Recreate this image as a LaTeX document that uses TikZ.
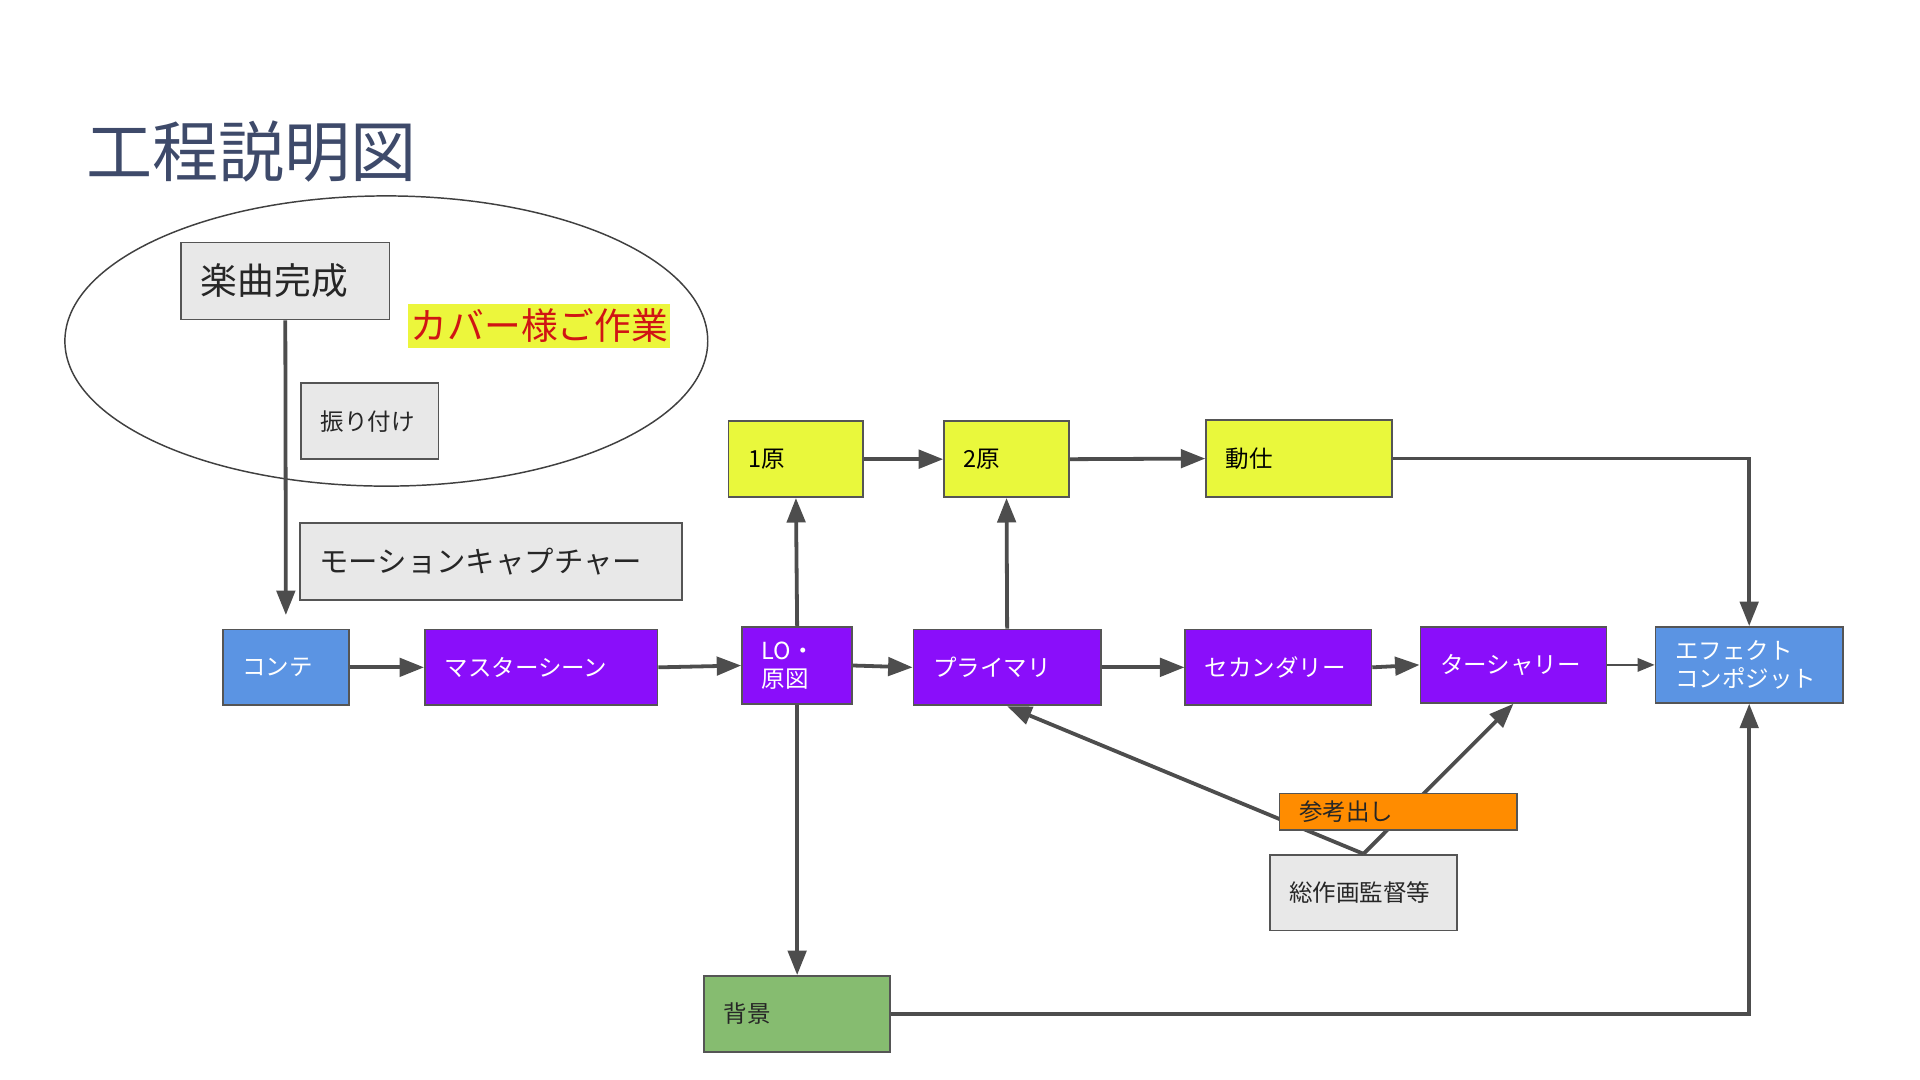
\documentclass[tikz,border=0pt]{standalone}
\usepackage{fontspec}
\setmainfont{Noto Sans CJK JP}
\usetikzlibrary{arrows.meta}
\definecolor{cpurple}{RGB}{138,14,250}
\definecolor{cblue}{RGB}{91,148,227}
\definecolor{cyellow}{RGB}{233,248,60}
\definecolor{cgray}{RGB}{232,232,232}
\definecolor{corange}{RGB}{255,140,0}
\definecolor{cgreen}{RGB}{134,188,112}
\definecolor{cline}{RGB}{77,77,77}
\definecolor{cborder}{RGB}{85,85,85}
\definecolor{ctitle}{RGB}{62,74,106}
\definecolor{cred}{RGB}{208,20,20}
\definecolor{chl}{RGB}{236,246,60}
\newcommand{\flowbox}[7]{%
  \pgfmathsetmacro{\fbw}{(#4-#2)*0.5}%
  \pgfmathsetmacro{\fbh}{(#5-#3)*0.5}%
  \pgfmathsetmacro{\fbt}{(#4-#2)*0.5-16}%
  \node[#6, minimum width=\fbw pt, minimum height=\fbh pt, text width=\fbt pt,
        inner xsep=8pt, inner ysep=0pt, align=left] (#1) at ({(#2+#4)/2},{(#3+#5)/2}) {#7};}
\tikzset{
  base/.style={draw=cborder, line width=0.7pt, font=\fontsize{9.6}{11.5}\selectfont},
  purplebox/.style={base, fill=cpurple, text=white},
  bluebox/.style={base, fill=cblue, text=white},
  yellowbox/.style={base, fill=cyellow, text=black},
  graybox/.style={base, fill=cgray, text=black!85},
  orangebox/.style={base, fill=corange, text=black!85},
  greenbox/.style={base, fill=cgreen, text=black!85},
  conn/.style={draw=cline, line width=1.55pt, -{Triangle[length=10pt,width=7.5pt]}},
  thinconn/.style={draw=cline, line width=0.9pt, -{Triangle[length=7pt,width=5.5pt]}}
}
\begin{document}
\begin{tikzpicture}[x=0.5pt, y=-0.5pt]
\path[use as bounding box, fill=white] (0,0) rectangle (1568,882);
% title
\node[anchor=base west, inner sep=0pt, text=ctitle, font=\fontsize{27}{30}\selectfont] (title) at (70,144) {工程説明図};
% ellipse
\draw[line width=0.6pt, black!75] (315.5,278.5) ellipse [x radius=262.5, y radius=118.5];
% boxes
\flowbox{gak}{148}{198}{318}{261}{graybox, font=\fontsize{15}{17}\selectfont}{楽曲完成}
\node[fill=chl, inner xsep=1pt, inner ysep=0pt, minimum width=105.5pt, minimum height=18pt, text=cred, font=\fontsize{15}{17}\selectfont] (cover) at (440.5,266) {カバー様ご作業};
\flowbox{furi}{246}{313}{358}{375}{graybox}{振り付け}
\flowbox{mocap}{245}{427}{557}{490}{graybox, font=\fontsize{12}{14}\selectfont}{モーションキャプチャー}
\flowbox{conte}{182}{514}{285}{576}{bluebox}{コンテ}
\flowbox{master}{347}{514}{537}{576}{purplebox}{マスターシーン}
\flowbox{lo}{606}{512}{696}{575}{purplebox}{LO・\\原図}
\flowbox{prim}{746}{514}{899}{576}{purplebox}{プライマリ}
\flowbox{sec}{968}{514}{1120}{576}{purplebox}{セカンダリー}
\flowbox{ter}{1160}{512}{1312}{574}{purplebox}{ターシャリー}
\flowbox{eff}{1352}{512}{1505}{574}{bluebox}{エフェクト\\コンポジット}
\flowbox{gen1}{595}{344}{705}{406}{yellowbox}{1原}
\flowbox{gen2}{771}{344}{873}{406}{yellowbox}{2原}
\flowbox{dosi}{985}{343}{1137}{406}{yellowbox}{動仕}
\flowbox{sosaku}{1037}{698}{1190}{760}{graybox}{総作画監督等}
\flowbox{haikei}{575}{797}{727}{859}{greenbox}{背景}
% connectors
\draw[conn, shorten >=5.5pt] (gak.south) -- (conte.north);
\draw[conn] (conte.east) -- (master.west);
\draw[conn] (master.east) -- (lo.west);
\draw[conn] (lo.east) -- (prim.west);
\draw[conn] (prim.east) -- (sec.west);
\draw[conn] (sec.east) -- (ter.west);
\draw[thinconn] (ter.east) -- (eff.west);
\draw[conn] (lo.north) -- (gen1.south);
\draw[conn] (prim.north) -- (gen2.south);
\draw[conn] (gen1.east) -- (gen2.west);
\draw[conn] (gen2.east) -- (dosi.west);
\draw[conn] (dosi.east) -| (eff.north);
\draw[conn] (lo.south) -- (haikei.north);
\draw[conn] (haikei.east) -| (eff.south);
\draw[conn] (sosaku.north) -- (prim.south);
\draw[conn] (sosaku.north) -- (ter.south);
% drawn last so it covers the two lines above
\flowbox{sanko}{1045}{648}{1239}{678}{orangebox}{参考出し}
\end{tikzpicture}
\end{document}
